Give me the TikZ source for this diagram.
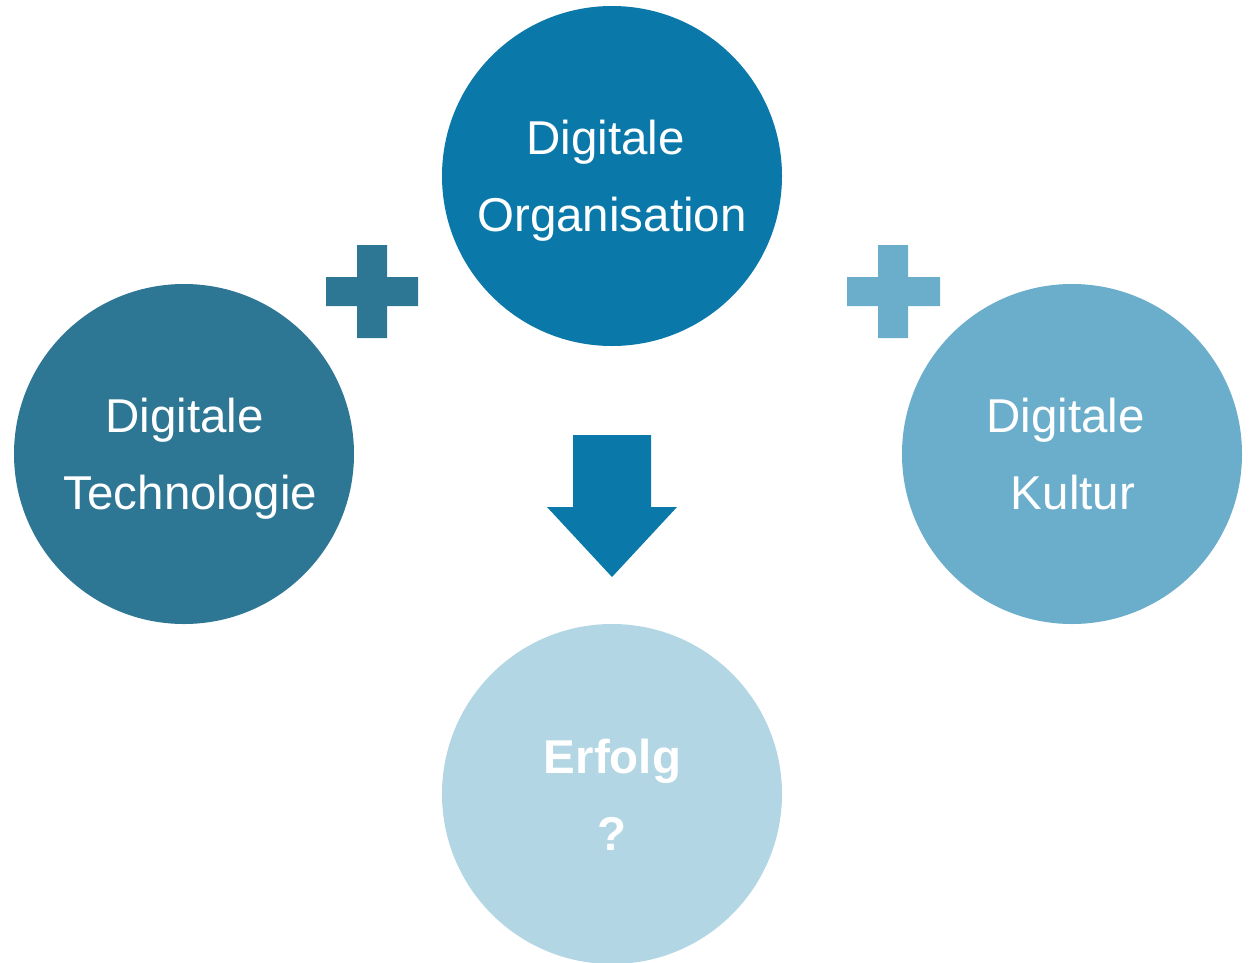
\documentclass[tikz,border=0pt]{standalone}
\usepackage{fontspec}
\setmainfont{Liberation Sans}
\definecolor{cOrg}{HTML}{0A78A8}
\definecolor{cTech}{HTML}{2E7794}
\definecolor{cKult}{HTML}{6BAECB}
\definecolor{cErf}{HTML}{B3D6E4}
\begin{document}
\begin{tikzpicture}[x=1pt,y=-1pt,
  disc/.style={circle,minimum size=340pt,inner sep=0pt,draw=none},
  lbl/.style={anchor=base,text=white,inner sep=0pt,font=\fontsize{47.5}{57}\selectfont},
  blbl/.style={lbl,font=\fontsize{47.5}{57}\selectfont\bfseries}]
\useasboundingbox (0,0) rectangle (1250,962);
\clip (0,0) rectangle (1250,962);
\node[disc,fill=cOrg]  (org)  at (612,176) {};
\node[disc,fill=cTech] (tech) at (184,454) {};
\node[disc,fill=cKult] (kult) at (1072,454) {};
\node[disc,fill=cErf]  (erf)  at (612,794) {};
% plus signs
\fill[cTech] (357,245) rectangle (387,338) (326,277) rectangle (418,306);
\fill[cKult] (878,245) rectangle (908,338) (847,277) rectangle (940,306);
% arrow
\fill[cOrg] (573,435) -- (651,435) -- (651,507) -- (677,507) -- (612,577) -- (547,507) -- (573,507) -- cycle;
% labels
\node[lbl] (o1) at (605.5,154) {Digitale};
\node[lbl] (o2) at (612,231) {Organisation};
\node[lbl] (t1) at (184.5,432) {Digitale};
\node[lbl] (t2) at (190.5,509) {Technologie};
\node[lbl] (k1) at (1065.5,432) {Digitale};
\node[lbl] (k2) at (1073,509) {Kultur};
\node[blbl] (e1) at (612.5,773) {Erfolg};
\node[blbl] (e2) at (612,850) {?};
\end{tikzpicture}
\end{document}
